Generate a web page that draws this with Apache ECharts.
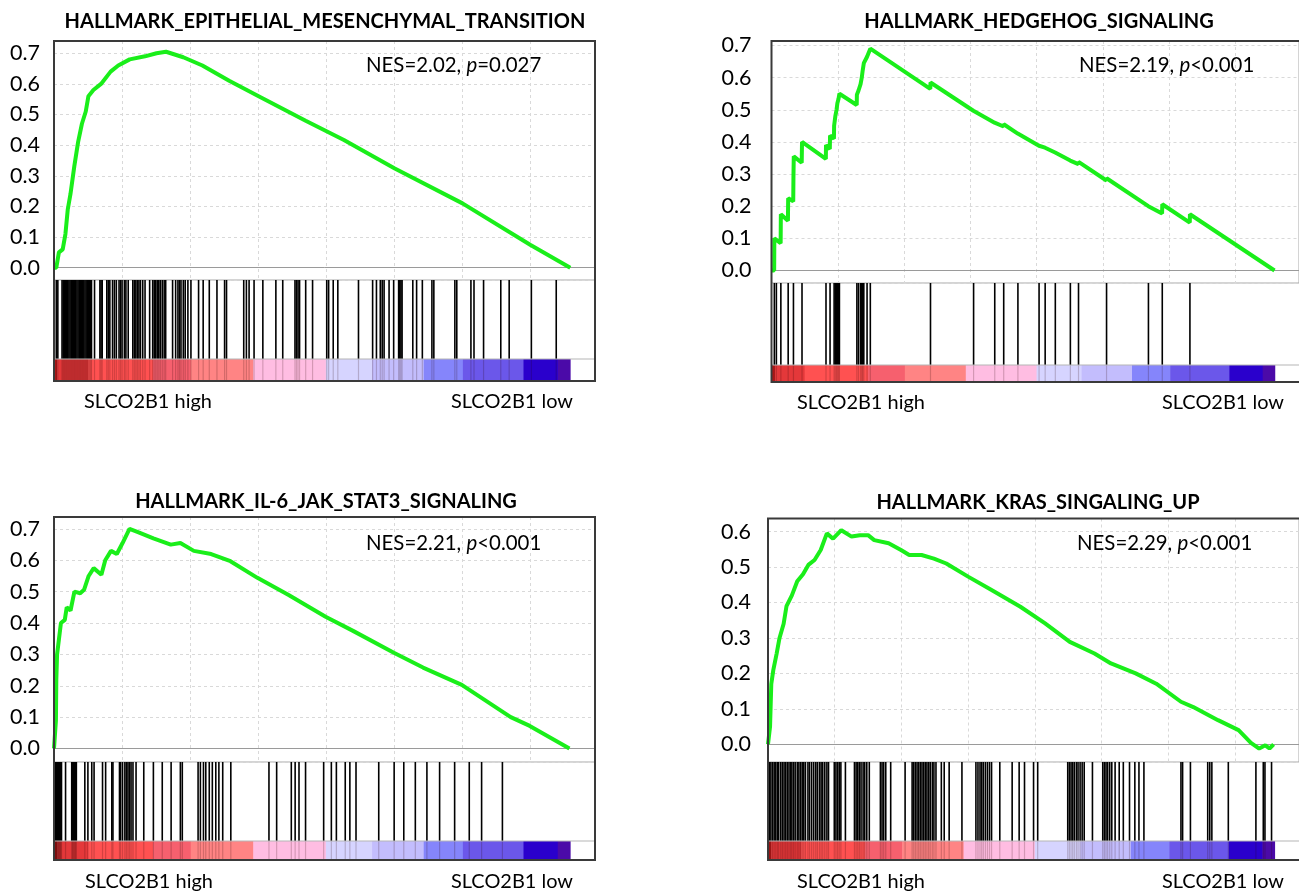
<!DOCTYPE html>
<html><head><meta charset="utf-8">
<script src="https://cdn.jsdelivr.net/npm/echarts@6/dist/echarts.min.js"></script>
<style>html,body{margin:0;padding:0;background:#fff}#c{width:1299px;height:892px}</style>
</head><body><div id="c"></div>
<script>
// ---------------- DATA ----------------
const X_MAX = 19900;      // rank axis extent (ranked list ~19000 genes)
const X_TICK = 2500;

const p1Title = 'HALLMARK_EPITHELIAL_MESENCHYMAL_TRANSITION';
const p1Nes = '2.02', p1P = '=0.027';
const p1Curve = [[0,0],[85,0.0],[180,0.05],[320,0.06],[420,0.11],[506,0.19],[605,0.24],[745,0.33],[886,0.41],[1027,0.47],[1168,0.51],[1266,0.56],[1449,0.58],[1730,0.60],[2082,0.64],[2363,0.66],[2785,0.68],[3348,0.69],[3770,0.70],[4122,0.705],[4755,0.687],[5458,0.66],[6443,0.61],[7527,0.56],[9257,0.48],[10664,0.417],[12535,0.324],[15026,0.21],[17530,0.074],[18990,0.0]];
const p1Hits = [84,141,295,338,380,422,464,507,549,591,633,675,718,760,802,844,886,929,971,1013,1055,1097,1140,1182,1224,1266,1309,1351,1379,1491,1688,1731,1773,1942,1998,2054,2153,2223,2293,2392,2448,2504,2589,2645,2730,2898,2955,3011,3067,3124,3180,3264,3349,3518,3630,3686,3743,3799,3855,3911,3982,4052,4108,4362,4474,4559,4615,4671,4756,4826,4925,5037,5318,5487,5712,5994,6275,6346,6979,7077,7176,7359,7682,8161,8414,8864,8920,8977,9033,9258,9511,10032,10102,10271,10440,11200,11720,11861,12002,12072,12142,12325,12494,12677,12719,12762,12804,13198,13338,13549,13901,13972,14745,14816,15336,15449,15801,16434,16743,17559,18474];

const p2Title = 'HALLMARK_HEDGEHOG_SIGNALING';
const p2Nes = '2.19', p2P = '<0.001';
const p2Curve = [[0,0],[100,0.0],[107,0.10],[345,0.085],[353,0.175],[620,0.155],[629,0.225],[820,0.215],[828,0.29],[840,0.355],[1140,0.335],[1151,0.40],[2050,0.347],[2056,0.39],[2200,0.378],[2209,0.42],[2355,0.41],[2362,0.45],[2408,0.48],[2454,0.50],[2485,0.52],[2531,0.535],[2562,0.55],[3215,0.515],[3221,0.547],[3283,0.56],[3360,0.58],[3405,0.60],[3436,0.62],[3482,0.645],[3605,0.665],[3728,0.69],[5990,0.565],[5998,0.585],[7615,0.497],[7624,0.503],[8415,0.46],[8422,0.466],[8755,0.448],[8760,0.455],[9290,0.426],[9296,0.432],[10090,0.388],[10094,0.394],[10320,0.382],[10324,0.388],[10700,0.367],[10707,0.373],[11270,0.342],[11275,0.348],[11575,0.331],[11582,0.338],[12635,0.280],[12640,0.287],[14215,0.200],[14220,0.206],[14735,0.177],[14742,0.206],[15780,0.149],[15785,0.175],[18976,0.0]];
const p2Hits = [107,184,353,629,828,1151,2056,2209,2362,2408,2454,2485,2531,2562,3221,3283,3360,3405,3436,3482,3605,3728,5998,7624,8422,8760,9296,10094,10324,10707,11275,11582,12640,14220,14742,15785];

const p3Title = 'HALLMARK_IL-6_JAK_STAT3_SIGNALING';
const p3Nes = '2.21', p3P = '<0.001';
const p3Curve = [[0,0],[42,0],[71,0.09],[85,0.22],[113,0.30],[184,0.35],[255,0.40],[397,0.41],[468,0.45],[609,0.44],[751,0.50],[964,0.495],[1105,0.506],[1275,0.55],[1460,0.575],[1743,0.554],[1885,0.60],[2097,0.63],[2310,0.62],[2522,0.655],[2777,0.70],[3089,0.69],[3656,0.67],[4294,0.65],[4648,0.655],[5144,0.63],[5781,0.62],[6490,0.597],[7482,0.544],[8615,0.49],[9990,0.42],[11000,0.375],[12500,0.305],[13575,0.258],[15000,0.203],[16800,0.10],[17500,0.072],[18959,0.0]];
const p3Hits = [20,42,64,85,106,128,149,170,191,213,234,255,276,425,652,680,708,737,765,793,822,1134,1247,1389,1474,1785,1899,2126,2168,2409,2451,2522,2607,2664,2721,2777,2834,2905,3018,3302,3656,3982,4308,4648,4719,5300,5385,5498,5583,5711,5824,5951,6065,6206,6504,7907,8190,8729,8870,9012,9253,9919,10202,10387,10713,10883,11109,11945,12512,12866,13291,13717,14184,14737,15275,15729,16494];

const p4Title = 'HALLMARK_KRAS_SINGALING_UP';
const p4Nes = '2.29', p4P = '<0.001';
const p4Curve = [[0,0],[46,0],[77,0.05],[123,0.17],[200,0.21],[324,0.256],[432,0.30],[586,0.34],[694,0.39],[895,0.42],[1096,0.46],[1312,0.48],[1512,0.506],[1744,0.52],[1975,0.548],[2207,0.595],[2438,0.58],[2747,0.604],[3132,0.586],[3441,0.59],[3750,0.59],[3981,0.576],[4521,0.567],[4984,0.548],[5293,0.534],[5755,0.534],[6218,0.524],[6681,0.51],[7499,0.473],[8378,0.435],[9459,0.388],[10385,0.341],[11310,0.289],[12236,0.256],[12853,0.228],[13779,0.20],[14550,0.171],[15476,0.12],[15939,0.105],[16865,0.068],[17636,0.04],[18099,0.004],[18408,-0.012],[18639,-0.003],[18793,-0.012],[18948,0.0]];
const p4Hits = [46,108,170,231,293,355,401,478,540,602,663,725,787,849,895,957,1018,1096,1157,1219,1281,1342,1404,1497,1558,1636,1713,1790,1852,1929,1990,2052,2129,2207,2268,2484,2546,2608,2669,2731,2901,3240,3302,3364,3425,3487,3564,3626,3703,3796,4212,4274,4336,4413,4598,5138,5401,5462,5524,5586,5647,5709,5771,5833,5894,5956,6018,6079,6157,6218,6295,6496,6604,6789,7268,7792,7869,7946,8008,8070,8147,8224,8302,8378,8687,9150,9412,9613,9952,10107,11233,11295,11357,11418,11480,11557,11619,11696,11773,11850,12159,12545,12606,12668,12730,12807,12884,13008,13162,13316,13548,13748,13902,14088,15476,15538,15831,16479,16556,16634,17251,18285,18562,18624,18871];

// ranked-list heat bar: segment edges (rank) shared by all panels
const heatEdges = [0,120,1250,3640,5030,7330,10000,11700,13600,15040,17270,18530,18985];

const groupHigh = 'SLCO2B1 high';
const groupLow = 'SLCO2B1 low';

// ---------------- STYLE / LAYOUT ----------------
const heatColors = ['#b01818','#e4383a','#ff5151','#f6606e','#ff8484','#ffbde2','#d6d4ff','#c3bdfd','#8585fb','#6b57ea','#2a00cc','#4b0aa8'];
const GREEN = '#1aee1a';
const FONT = 'Lato';

const panels = [
  {title:p1Title, nes:p1Nes, p:p1P, curve:p1Curve, hits:p1Hits,
   left:54, width:541, top:41, sep:280, heatTop:359, bottom:381, yMin:-0.040, yMax:0.740, lm:14,
   titleX:325, titleY:22, nesX:366, nesY:65, highX:84, lowX:573, labY:402},
  {title:p2Title, nes:p2Nes, p:p2P, curve:p2Curve, hits:p2Hits,
   left:771.5, width:535.5, top:41, sep:283, heatTop:365, bottom:382, yMin:-0.039, yMax:0.714, lm:20,
   titleX:1039, titleY:22, nesX:1079, nesY:65, highX:797, lowX:1284, labY:403},
  {title:p3Title, nes:p3Nes, p:p3P, curve:p3Curve, hits:p3Hits,
   left:54, width:541, top:517, sep:762, heatTop:841, bottom:860, yMin:-0.043, yMax:0.738, lm:14,
   titleX:326, titleY:502, nesX:366, nesY:543, highX:85, lowX:573, labY:882},
  {title:p4Title, nes:p4Nes, p:p4P, curve:p4Curve, hits:p4Hits,
   left:768, width:535.5, top:518.5, sep:762, heatTop:841, bottom:860, yMin:-0.050, yMax:0.637, lm:17,
   titleX:1038, titleY:503, nesX:1077, nesY:543, highX:797, lowX:1284, labY:882}
];

const cv = document.createElement('canvas').getContext('2d');
function fit(text, weight, target){ cv.font = weight + ' 100px ' + FONT; return 100 * target / cv.measureText(text).width; }
const titleSize = fit(p1Title, 'bold', 521);
const nesSize = fit('NES=2.02, p=0.027', 'normal', 176);
const labSize = fit(groupHigh, 'normal', 128);
const tickSize = fit('0.7', 'normal', 30);

const grid = [], xAxis = [], yAxis = [], series = [], graphic = [];
const heatData = heatEdges.slice(0, -1).map((s, i) => [s, heatEdges[i + 1], i]);

panels.forEach((P, k) => {
  const gA = grid.length;
  grid.push({left:P.left, top:P.top, width:P.width, height:P.sep - P.top, show:true, borderColor:'#a9a9a9', borderWidth:1, backgroundColor:'#fff'});
  grid.push({left:P.left, top:P.sep, width:P.width, height:P.heatTop - P.sep, show:false});
  grid.push({left:P.left, top:P.heatTop, width:P.width, height:P.bottom - P.heatTop, show:false});
  for (let j = 0; j < 3; j++) {
    xAxis.push({type:'value', gridIndex:gA + j, min:0, max:X_MAX, interval:X_TICK,
      axisLabel:{show:false}, axisTick:{show:false},
      axisLine: j === 0 ? {show:true, onZero:true, lineStyle:{color:'#9a9a9a', width:1}} : {show:false},
      splitLine: j === 0 ? {show:true, lineStyle:{color:'#d9d9d9', type:[3,3], width:1}} : {show:false}});
  }
  yAxis.push({type:'value', gridIndex:gA, min:P.yMin, max:P.yMax, splitNumber:8,
    axisLine:{show:false}, axisTick:{show:false},
    axisLabel:{margin:P.lm, color:'#000', fontFamily:FONT, fontSize:tickSize,
      formatter: v => { const t = v * 10; return (Math.abs(t - Math.round(t)) < 1e-6 && v > -1e-6) ? (Math.abs(v) < 1e-9 ? 0 : v).toFixed(1) : ''; }},
    splitLine:{show:true, lineStyle:{color:'#d9d9d9', type:[3,3], width:1}}});
  yAxis.push({type:'value', gridIndex:gA + 1, min:0, max:1, show:false});
  yAxis.push({type:'value', gridIndex:gA + 2, min:0, max:1, show:false});

  series.push({type:'line', xAxisIndex:gA, yAxisIndex:gA, data:P.curve, showSymbol:false, symbol:'none',
    lineStyle:{color:GREEN, width:4}, clip:false, z:5, animation:false});
  series.push({type:'custom', xAxisIndex:gA + 1, yAxisIndex:gA + 1, data:P.hits.map(h => [h, 1]),
    encode:{x:0, y:1}, animation:false,
    renderItem:(params, api) => {
      const a = api.coord([api.value(0), 0]), b = api.coord([api.value(0), 1]);
      return {type:'line', shape:{x1:a[0], y1:a[1], x2:b[0], y2:b[1]}, style:{stroke:'#000', lineWidth:1.6}};
    }});
  series.push({type:'custom', xAxisIndex:gA + 2, yAxisIndex:gA + 2, data:heatData,
    encode:{x:[0,1], y:2}, animation:false,
    renderItem:(params, api) => {
      const a = api.coord([api.value(0), 1]), b = api.coord([api.value(1), 0]);
      return {type:'rect', shape:{x:a[0], y:a[1], width:b[0] - a[0] + 0.5, height:b[1] - a[1]},
        style:{fill:heatColors[api.value(2)]}};
    }});
  series.push({type:'custom', xAxisIndex:gA + 2, yAxisIndex:gA + 2, data:P.hits.map(h => [h, 1]),
    encode:{x:0, y:1}, animation:false, z:3,
    renderItem:(params, api) => {
      const a = api.coord([api.value(0), 0]), b = api.coord([api.value(0), 1]);
      return {type:'line', shape:{x1:a[0], y1:a[1], x2:b[0], y2:b[1]}, style:{stroke:'rgba(40,0,0,0.2)', lineWidth:1.2}};
    }});

  // heat bar top separator and outer frame
  graphic.push({type:'line', z:90, shape:{x1:P.left, y1:P.heatTop, x2:P.left + P.width, y2:P.heatTop}, style:{stroke:'#b5b5b5', lineWidth:1}});
  graphic.push({type:'rect', z:100, shape:{x:P.left, y:P.top, width:P.width, height:P.bottom - P.top}, style:{fill:'none', stroke:'#3a3a3a', lineWidth:2}});
  // texts
  graphic.push({type:'text', z:100, x:P.titleX, y:P.titleY, style:{text:P.title, fill:'#000', font:'bold ' + titleSize.toFixed(2) + 'px ' + FONT, align:'center', verticalAlign:'middle', textAlign:'center', textVerticalAlign:'middle'}});
  graphic.push({type:'text', z:100, x:P.nesX, y:P.nesY, style:{
    text:'{n|NES=' + P.nes + ', }{i|p}{n|' + P.p + '}', fill:'#000', align:'left', verticalAlign:'middle', textAlign:'left', textVerticalAlign:'middle',
    rich:{n:{fontFamily:FONT, fontSize:nesSize, fill:'#000'}, i:{fontFamily:FONT, fontSize:nesSize, fontStyle:'italic', fill:'#000'}}}});
  graphic.push({type:'text', z:100, x:P.highX, y:P.labY, style:{text:groupHigh, fill:'#000', font:labSize.toFixed(2) + 'px ' + FONT, align:'left', verticalAlign:'middle', textAlign:'left', textVerticalAlign:'middle'}});
  graphic.push({type:'text', z:100, x:P.lowX, y:P.labY, style:{text:groupLow, fill:'#000', font:labSize.toFixed(2) + 'px ' + FONT, align:'right', verticalAlign:'middle', textAlign:'right', textVerticalAlign:'middle'}});
});

const chart = echarts.init(document.getElementById('c'), null, {renderer:'canvas'});
chart.setOption({backgroundColor:'#fff', animation:false, grid, xAxis, yAxis, series, graphic});
</script>
</body></html>
